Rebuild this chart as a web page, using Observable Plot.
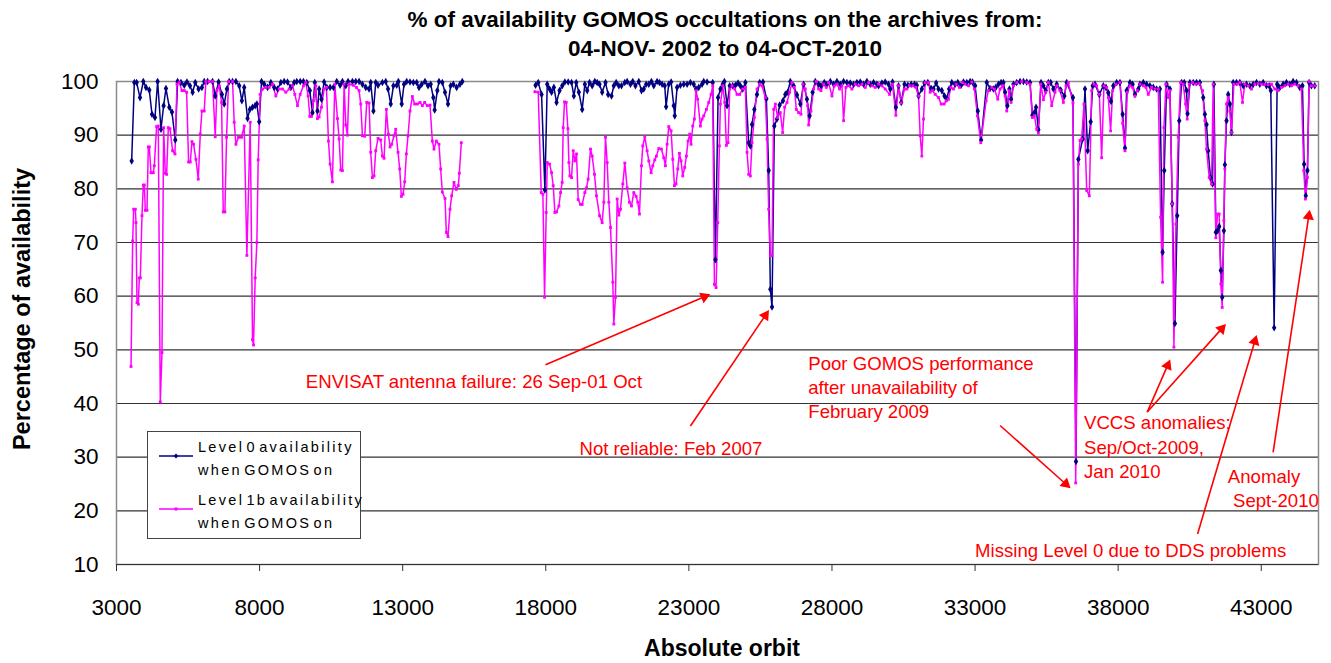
<!DOCTYPE html>
<html><head><meta charset="utf-8">
<script src="https://cdn.jsdelivr.net/npm/d3@7"></script>
<script src="https://cdn.jsdelivr.net/npm/@observablehq/plot@0.6"></script>
<style>
body{margin:0;background:#fff;font-family:"Liberation Sans",Arial,sans-serif;}
#wrap{position:relative;width:1331px;height:663px;overflow:hidden;}
#title{position:absolute;left:0;top:5px;width:1331px;padding-left:119px;box-sizing:border-box;text-align:center;font-weight:bold;font-size:22.5px;line-height:29px;color:#000;}
#ylab{position:absolute;left:22px;top:309px;transform:translate(-50%,-50%) rotate(-90deg);white-space:nowrap;font-weight:bold;font-size:23.5px;}
#xlab{position:absolute;left:722px;top:648px;transform:translate(-50%,-50%);white-space:nowrap;font-weight:bold;font-size:23px;}
#legend{position:absolute;left:147px;top:431px;width:214px;height:108px;border:1px solid #444;background:#fff;box-sizing:border-box;}
.lg{position:absolute;left:50px;font-size:14.5px;letter-spacing:2.3px;word-spacing:-4px;line-height:22.5px;white-space:nowrap;}
.ls{position:absolute;left:11px;}
</style></head>
<body>
<div id="wrap">
<div id="chart"></div>
<div id="title"></div>
<div id="ylab"></div>
<div id="xlab"></div>
<div id="legend"></div>
</div>
<script>
const titleLines = ["% of availability GOMOS occultations on the archives from:", "04-NOV- 2002 to 04-OCT-2010"];
const xLabel = "Absolute orbit";
const yLabel = "Percentage of availability";
const seriesNames = [["Level 0 availability", "when GOMOS on"], ["Level 1b availability", "when GOMOS on"]];
const seriesColors = ["#000080", "#FF00FF"];
const xTicks = [3000, 8000, 13000, 18000, 23000, 28000, 33000, 38000, 43000];
const yTicks = [10, 20, 30, 40, 50, 60, 70, 80, 90, 100];

// Level 0 availability (absolute orbit, %)
const l0Orbit = [3530,3623,3704,3821,3937,4030,4146,4240,4344,4437,4554,4647,4728,4845,4938,5054,5135,5252,5368,5461,5566,5659,5752,5869,5985,6066,6183,6357,6450,6567,6683,6764,6857,6939,7055,7172,7288,7381,7462,7579,7660,7753,7846,7905,7986,8068,8161,8277,8393,8510,8626,8742,8859,8975,9091,9208,9300,9420,9533,9650,9754,9847,9929,10022,10080,10161,10254,10348,10464,10580,10697,10813,10894,11011,11092,11244,11360,11476,11593,11709,11825,11883,11977,12058,12139,12291,12407,12488,12582,12675,12791,12849,12966,13047,13140,13256,13373,13489,13570,13664,13780,13885,13978,14071,14117,14210,14268,14385,14478,14583,14676,14769,14885,15001,15083,
16300,
17643,17736,17852,17969,18050,18132,18202,18283,18376,18481,18574,18667,18783,18900,18981,19063,19156,19272,19365,19447,19528,19621,19714,19796,19877,19970,20086,20179,20296,20377,20459,20552,20645,20761,20843,20959,21040,21133,21250,21343,21424,21506,21599,21692,21773,21890,21971,22064,22157,22204,22297,22379,22472,22507,22588,22704,22821,22937,23053,23170,23251,23344,23460,23519,23636,23833,23927,24020,24101,24183,24241,24334,24427,24532,24625,24718,24799,24881,24974,25090,25148,25206,25288,25381,25474,25590,25707,25788,25846,25905,25986,26079,26172,26288,26370,26451,26544,26661,26777,26893,27010,27126,27219,27324,27417,27533,27615,27731,27824,27941,28057,28173,28290,28406,28522,28638,28755,28871,28988,29104,29220,29337,29453,29570,29627,29744,29860,29976,30035,30116,30232,30326,30419,30535,30651,30768,30884,30965,31024,31140,31233,31349,31466,31547,31640,31722,31838,31931,32013,32094,32187,32303,32397,32513,32594,32711,32827,32909,33002,33095,33211,33409,33525,33641,33723,33816,33909,33990,34049,34130,34200,34258,34340,34456,34572,34689,34805,34921,35003,35073,35131,35212,35305,35387,35468,35561,35643,35736,35852,35992,36120,36201,36420,36527,36609,36760,36841,36934,37039,37109,37190,37342,37481,37574,37656,37749,37830,37947,38063,38156,38238,38296,38412,38505,38587,38703,38761,38878,38994,39110,39227,39343,39459,39552,39610,39692,39808,39890,39983,40064,40134,40215,40309,40390,40425,40507,40623,40739,40856,40972,41030,41088,41146,41227,41297,41344,41414,41472,41530,41588,41635,41693,41728,41786,41844,41902,41960,42019,42135,42252,42368,42484,42600,42717,42833,42950,43066,43182,43275,43333,43450,43555,43648,43764,43880,43997,44113,44230,44346,44439,44497,44555,44613,44671,44753,44869];
const l0Value = [85.2,99.8,99.8,97.0,100,98.9,98.4,93.9,93.3,100,91.1,95.5,98.7,95.2,94.3,89.1,100,99.8,99.3,99.9,99.2,98.0,99.8,98.6,98.9,100,100,100,97.3,99.9,97.6,95.8,98.6,100,100,100,99.2,96.4,98.9,93.1,94.8,95.2,95.5,95.8,92.5,100,99.5,98.9,99.8,98.9,98.6,99.8,100,99.9,98.9,99.8,100,100,100,99.8,98.3,94.2,99.8,94.5,98.6,96.7,99.9,98.9,98.9,98.9,100,99.3,100,99.2,100,100,100,100,99.5,98.9,98.6,99.8,94.5,99.8,99.3,99.8,100,98.6,95.8,99.2,99.3,100,95.8,99.5,100,99.9,99.8,99.8,98.9,99.5,100,99.2,99.5,97.0,94.7,98.3,100,99.8,98.0,95.8,99.2,99.5,98.9,99.5,100,
NaN,
99.3,99.8,97.6,79.8,99.5,98.6,98.0,98.9,96.1,98.3,99.2,99.9,99.9,99.8,97.3,99.8,98.0,94.8,99.5,98.3,99.8,99.2,100,99.8,99.5,98.0,99.8,97.6,97.3,99.2,99.8,99.2,99.2,99.8,100,99.5,100,99.2,100,98.3,98.6,99.5,99.5,100,99.2,100,99.8,99.5,99.2,95.3,99.5,99.9,95.5,93.6,98.9,99.3,99.5,99.5,99.8,99.5,98.6,98.9,99.5,100,99.9,99.8,66.8,97.0,98.6,99.5,100,95.5,99.2,99.2,99.3,99.7,99.2,98.6,99.8,88.6,88.0,92.0,94.8,97.6,99.8,99.9,96.8,83.4,61.3,58.0,91.7,93.0,95.6,96.4,97.6,98.0,100,99.2,97.5,95.8,99.5,96.7,93.6,98.0,100,99.5,99.2,99.8,99.5,100,99.5,100,99.5,100,99.8,99.7,99.5,99.8,99.9,99.5,100,99.5,99.8,99.5,99.2,99.7,99.9,99.5,98.6,99.9,95.2,99.2,96.1,99.5,99.3,99.5,99.5,99.3,97.3,98.6,99.7,99.8,98.7,98.6,99.7,98.6,98.3,97.3,96.8,98.6,99.8,99.5,99.8,99.3,99.9,99.8,100,99.9,99.2,94.5,89.1,99.8,98.7,98.6,98.9,99.5,99.8,99.8,98.0,95.5,98.6,96.7,99.5,99.8,100,100,99.9,99.8,93.7,94.2,95.2,91.0,99.8,99.2,98.3,99.8,99.8,98.6,99.5,98.4,97.3,99.8,97.0,29.2,85.5,89.3,98.6,87.1,92.5,99.2,99.5,97.6,99.2,98.9,97.9,96.3,99.2,99.8,99.8,93.9,87.6,98.3,99.8,99.5,97.6,98.6,99.5,99.8,99.5,99.2,98.9,98.6,98.6,68.2,83.4,99.5,98.6,77.2,54.9,75.0,92.7,99.8,99.8,98.3,94.0,99.8,99.8,99.8,99.8,97.0,93.9,92.0,87.1,82.1,80.9,99.5,71.9,72.2,73.0,64.8,59.8,72.2,84.5,92.7,97.6,95.8,90.5,99.8,99.8,99.8,99.2,99.5,99.2,99.5,99.8,99.5,99.8,99.2,99.2,98.3,54.1,99.5,98.9,99.5,99.8,99.5,100,99.8,98.9,99.2,84.6,78.7,83.4,99.8,99.2,99.2];

// Level 1b availability (absolute orbit, %)
const l1Orbit = [3507,3565,3600,3658,3681,3716,3763,3797,3832,3890,3937,3972,4007,4065,4112,4146,4205,4286,4321,4402,4460,4530,4589,4647,4705,4752,4810,4868,4961,5043,5112,5194,5287,5368,5450,5519,5578,5636,5694,5775,5857,5927,5985,6066,6124,6240,6357,6450,6508,6590,6671,6730,6788,6846,6915,7055,7113,7172,7265,7369,7462,7556,7672,7753,7788,7846,7905,7951,8021,8103,8219,8335,8452,8568,8684,8800,8917,9033,9150,9231,9324,9417,9533,9615,9696,9754,9812,9882,9964,10022,10080,10161,10254,10336,10406,10464,10545,10627,10720,10778,10836,10894,10953,11011,11069,11127,11278,11383,11476,11534,11593,11674,11744,11825,11883,11942,12000,12058,12139,12232,12291,12349,12430,12500,12558,12616,12698,12756,12837,12896,12954,13012,13070,13128,13186,13256,13338,13419,13512,13605,13687,13768,13861,13954,14036,14094,14175,14268,14327,14385,14478,14525,14583,14653,14711,14792,14874,14944,14979,15048,
16300,
17620,17736,17841,17899,17957,18015,18050,18132,18202,18260,18318,18376,18458,18516,18574,18609,18655,18714,18772,18807,18841,18900,18958,19016,19074,19132,19214,19272,19365,19423,19481,19563,19621,19702,19772,19877,19970,20028,20086,20145,20203,20261,20342,20377,20435,20494,20552,20610,20691,20761,20843,20924,20994,21075,21157,21215,21273,21343,21389,21459,21541,21599,21680,21738,21808,21866,21947,22041,22122,22180,22239,22297,22379,22437,22495,22553,22611,22669,22727,22786,22855,22913,22971,23030,23076,23135,23193,23251,23309,23402,23460,23519,23613,23694,23775,23833,23892,23950,24008,24066,24101,24183,24252,24310,24368,24427,24508,24601,24683,24776,24881,24974,25032,25090,25148,25206,25288,25381,25474,25555,25672,25730,25788,25846,25905,25963,26021,26102,26195,26277,26347,26428,26521,26602,26684,26754,26835,26917,26987,27068,27150,27185,27266,27359,27452,27533,27615,27708,27801,27882,27999,28080,28173,28266,28348,28406,28487,28580,28697,28813,28929,29046,29162,29279,29395,29511,29628,29744,29860,30011,30116,30232,30326,30419,30535,30616,30709,30826,30931,31024,31082,31140,31198,31256,31373,31431,31512,31605,31722,31815,31919,31989,32071,32152,32245,32338,32455,32559,32652,32769,32885,32978,33083,33199,33386,33467,33583,33676,33793,33874,33967,34049,34107,34188,34258,34340,34456,34630,34805,34921,35003,35073,35154,35212,35294,35387,35468,35561,35678,35794,35852,35969,36085,36178,36260,36420,36516,36609,36667,36725,36806,36900,36993,37074,37155,37248,37342,37423,37504,37598,37656,37737,37807,37923,38063,38156,38238,38319,38412,38505,38587,38668,38761,38878,38971,39052,39168,39285,39401,39483,39552,39599,39669,39750,39808,39890,39948,40018,40099,40180,40274,40355,40413,40483,40600,40716,40832,40948,41030,41088,41181,41263,41321,41414,41472,41530,41588,41635,41693,41728,41786,41844,41902,41960,42042,42158,42252,42345,42426,42542,42659,42775,42891,43008,43124,43240,43357,43473,43590,43706,43823,43939,44055,44171,44288,44404,44486,44544,44613,44671,44753,44869];
const l1Value = [46.9,70.3,76.2,76.2,73.7,58.8,58.5,63.4,63.4,75.0,80.7,80.7,76.0,76.0,87.8,87.8,83.0,83.0,84.3,91.6,91.7,40.3,49.5,91.4,82.9,82.7,91.4,91.2,87.1,86.5,99.5,99.8,98.3,98.3,98.0,85.0,85.0,88.8,88.3,85.5,81.8,90.2,94.5,94.5,100,100,100,89.7,98.3,99.2,96.1,75.7,75.7,89.6,100,100,92.4,88.3,89.6,89.6,91.7,67.6,92.4,51.9,50.9,63.4,70.0,85.4,97.6,98.6,98.9,98.9,99.5,97.3,98.6,98.6,98.0,98.6,99.2,97.6,95.5,97.6,99.2,99.8,97.3,93.5,93.5,96.4,99.2,93.1,93.4,95.2,98.6,98.9,88.9,84.6,81.3,99.5,93.1,89.3,83.5,83.4,99.5,91.9,90.0,99.5,99.3,98.9,98.3,95.8,89.9,89.8,96.1,96.0,86.8,82.1,82.4,87.1,89.4,89.1,86.1,85.7,94.8,90.2,87.8,88.3,89.9,91.1,86.8,83.7,78.6,79.0,81.3,86.5,89.9,94.5,97.2,95.8,95.8,96.1,95.5,96.1,95.5,95.6,88.9,87.4,88.9,88.3,83.7,79.4,78.2,71.9,71.1,76.2,78.7,81.2,79.9,80.6,82.9,88.6,
NaN,
98.1,98.0,79.3,79.0,59.8,75.6,84.9,84.6,83.0,80.6,75.6,75.7,76.8,79.3,81.2,91.4,96.2,96.1,91.2,84.9,82.4,82.1,87.1,85.2,86.5,78.0,77.1,77.1,79.3,80.2,81.8,87.4,86.1,82.7,78.7,75.0,73.7,77.5,89.6,84.9,77.5,72.8,62.6,54.8,59.8,78.1,75.1,76.2,80.9,84.8,80.2,77.5,76.8,79.3,78.6,77.5,75.3,84.3,88.0,89.7,87.1,85.2,83.0,84.3,85.4,86.1,87.5,87.4,85.8,84.3,88.3,91.6,90.8,85.5,80.6,80.9,83.7,86.6,85.2,82.4,84.0,86.1,88.9,90.2,88.3,91.7,93.0,98.3,96.7,91.7,93.0,93.6,94.8,96.1,97.6,99.2,62.2,61.6,73.7,88.0,95.8,99.2,96.1,88.1,88.6,98.6,99.2,98.6,97.6,97.6,98.6,98.9,86.8,82.7,82.4,88.6,93.3,98.6,99.5,99.2,97.0,89.3,76.2,67.5,67.6,94.8,95.8,93.3,94.2,90.5,95.2,96.1,98.0,99.8,98.9,94.8,94.2,93.9,99.5,98.6,95.5,91.9,94.5,98.6,100,98.6,98.3,99.5,98.9,99.8,97.3,99.2,99.5,98.6,99.2,92.7,98.9,99.2,98.6,99.5,99.2,99.5,98.9,99.8,99.2,98.9,99.5,99.2,98.6,97.6,99.5,93.7,99.2,96.0,98.6,98.6,99.2,99.2,98.9,97.3,89.9,86.1,93.0,99.8,99.8,98.0,98.3,97.6,97.0,95.8,95.8,96.4,96.7,98.9,98.6,99.5,98.9,99.8,99.5,99.2,99.9,98.6,93.6,88.6,96.4,98.3,98.9,98.6,96.7,98.6,99.2,97.3,94.5,98.3,96.1,99.2,99.8,100,99.8,99.5,93.3,93.6,91.1,90.4,99.5,96.6,98.0,99.8,95.5,98.0,99.2,98.3,96.1,99.2,99.8,96.0,25.2,84.6,89.0,89.3,95.8,79.7,78.7,98.3,99.5,99.2,97.6,85.8,99.2,98.9,97.0,90.8,98.3,99.5,99.8,92.2,87.1,98.0,99.2,98.9,97.3,98.3,99.5,99.2,98.9,97.6,98.9,98.6,98.6,74.7,62.6,91.4,99.5,97.0,98.3,77.2,50.5,73.4,89.6,99.8,99.5,95.8,93.0,99.5,99.8,99.5,99.6,98.3,92.7,87.4,82.1,80.9,99.5,70.9,75.3,75.3,62.3,57.9,74.1,83.7,95.8,97.0,94.5,90.5,99.5,99.5,99.8,96.1,99.5,99.2,98.6,99.5,99.6,99.5,99.5,99.4,99.5,98.6,98.3,98.9,99.2,99.5,99.2,99.5,99.2,98.6,83.4,78.1,82.1,100,99.2,99.2];

// Annotations (text in data units: orbit, %)
const noteText = ["ENVISAT antenna failure: 26 Sep-01 Oct", "Not reliable: Feb 2007", "Poor GOMOS performance\nafter unavailability of\nFebruary 2009", "VCCS anomalies:\nSep/Oct-2009,\nJan 2010", "Anomaly\n\u00a0Sept-2010", "Missing Level 0 due to DDS problems"];
const noteOrbit = [9615, 19178, 27172, 36806, 41833, 33001];
const noteValue = [44.3, 31.8, 43.2, 32.1, 24.4, 12.9];
// Arrows: from (orbit, %) to (orbit, %)
const arrowFromOrbit = [17992, 23054, 33874, 39016, 39016, 43414, 40775];
const arrowFromValue = [47.2, 35.8, 35.9, 38.4, 38.4, 30.9, 15.7];
const arrowToOrbit = [23542, 25671, 36167, 39728, 41613, 44660, 42774];
const arrowToValue = [59.9, 56.4, 25.0, 47.1, 53.9, 74.9, 51.6];

const l0 = l0Orbit.map((o, i) => ({orbit: o, value: l0Value[i]}));
const l1 = l1Orbit.map((o, i) => ({orbit: o, value: l1Value[i]}));
const notes = noteText.map((t, i) => ({text: t, orbit: noteOrbit[i], value: noteValue[i]}));
const arrows = arrowFromOrbit.map((o, i) => ({x1: o, y1: arrowFromValue[i], x2: arrowToOrbit[i], y2: arrowToValue[i]}));

const FONT = '"Liberation Sans", Arial, sans-serif';
const base = {
  width: 1331, height: 663,
  marginLeft: 116, marginRight: 13, marginTop: 81, marginBottom: 99,
  x: {type: "linear", domain: [3000, 45000]},
  y: {type: "linear", domain: [10, 100]}
};
const probe = Plot.plot({...base, marks: [Plot.ruleY([10])]});
const sx = probe.scale("x"), sy = probe.scale("y");
arrows.forEach(a => {
  const dx = sx.apply(a.x2) - sx.apply(a.x1);
  const dy = sy.apply(a.y2) - sy.apply(a.y1);
  a.angle = Math.atan2(dx, -dy) * 180 / Math.PI;
});

const chart = Plot.plot({
  ...base,
  style: {fontFamily: FONT, background: "#fff", overflow: "visible"},
  marks: [
    Plot.ruleY(yTicks.filter(v => v > 10 && v < 100), {stroke: "#333", strokeWidth: 1.1}),
    Plot.frame({stroke: "#8c8c8c", strokeWidth: 1.5}),
    Plot.ruleY([10], {stroke: "#333", strokeWidth: 1.2}),
    Plot.axisX({ticks: xTicks, tickFormat: d => String(d), tickSize: 7, tickPadding: 28, fontSize: 22.5, stroke: "#333", label: null, fill: "#000"}),
    Plot.axisY({ticks: yTicks, tickFormat: d => String(d), tickSize: 0, tickPadding: 18, fontSize: 22.5, label: null, fill: "#000"}),
    Plot.line(l0, {x: "orbit", y: "value", stroke: seriesColors[0], strokeWidth: 1.5, curve: "linear"}),
    Plot.line(l1, {x: "orbit", y: "value", stroke: seriesColors[1], strokeWidth: 1.5, curve: "linear"}),
    Plot.dot(l0, {x: "orbit", y: "value", symbol: "diamond", r: 2.3, fill: seriesColors[0], stroke: null}),
    Plot.dot(l1, {x: "orbit", y: "value", symbol: "square", r: 1.6, fill: seriesColors[1], stroke: null}),
    Plot.link(arrows, {x1: "x1", y1: "y1", x2: "x2", y2: "y2", stroke: "#FF0000", strokeWidth: 1.6}),
    Plot.dot(arrows, {x: "x2", y: "y2", symbol: "triangle", r: 4.2, rotate: "angle", fill: "#FF0000", stroke: null}),
    Plot.text(notes, {x: "orbit", y: "value", text: "text", textAnchor: "start", lineHeight: 1.3, fontSize: 18.6, fill: "#FF0000", fontFamily: FONT})
  ]
});
document.getElementById("chart").appendChild(chart);

document.getElementById("title").innerHTML = titleLines.join("<br>");
document.getElementById("xlab").textContent = xLabel;
document.getElementById("ylab").textContent = yLabel;

const legend = document.getElementById("legend");
const markSvg = (color, sym) => `<svg width="36" height="6" viewBox="0 0 36 6"><line x1="0" y1="3" x2="34" y2="3" stroke="${color}" stroke-width="1.5"/>${sym === "d" ? `<path d="M17,0.6L19.4,3L17,5.4L14.6,3Z" fill="${color}"/>` : `<rect x="15.5" y="1.5" width="3" height="3" fill="${color}"/>`}</svg>`;
seriesNames.forEach((lines, i) => {
  const top = i === 0 ? 4 : 57;
  const ls = document.createElement("div");
  ls.className = "ls"; ls.style.top = (top + 9) + "px";
  ls.innerHTML = markSvg(seriesColors[i], i === 0 ? "d" : "s");
  legend.appendChild(ls);
  const t = document.createElement("div");
  t.className = "lg"; t.style.top = top + "px";
  t.innerHTML = lines.join("<br>");
  legend.appendChild(t);
});
</script>
</body></html>
